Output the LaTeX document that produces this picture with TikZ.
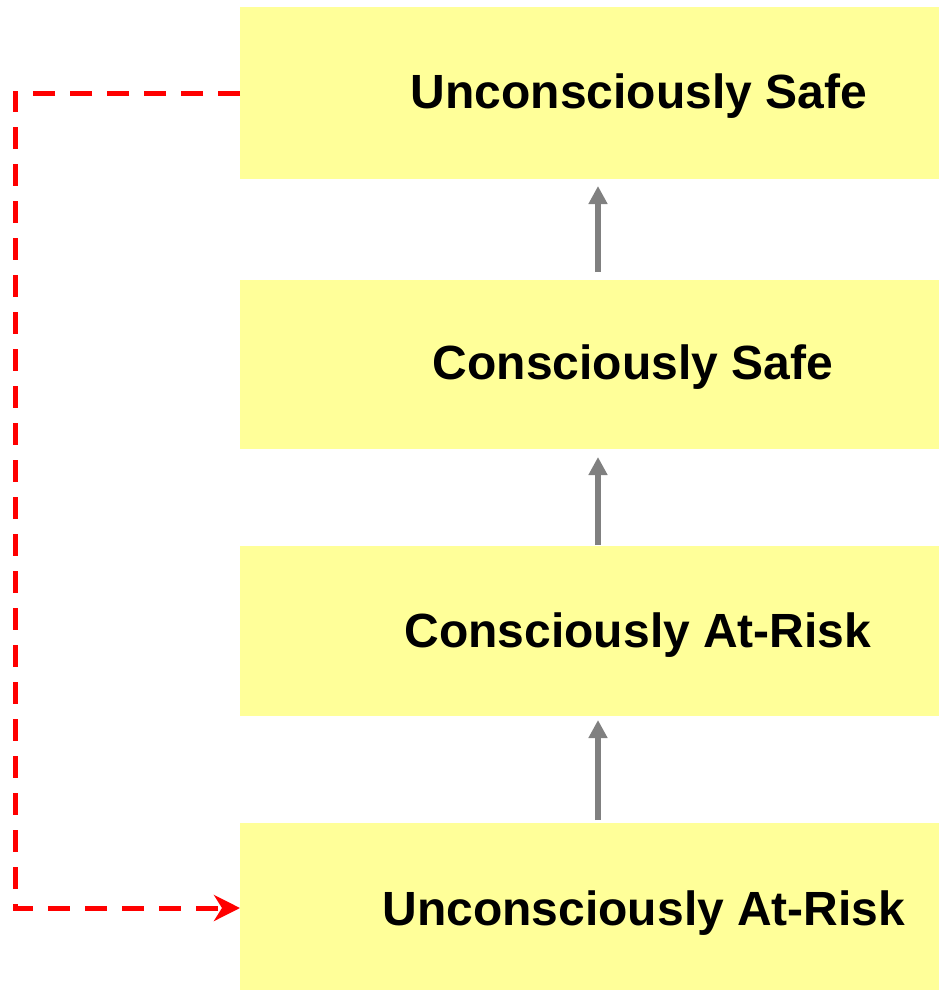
\documentclass[tikz,border=0pt]{standalone}
\usepackage{fontspec}
\setmainfont{Liberation Sans}
\usetikzlibrary{arrows.meta}
\definecolor{boxyellow}{HTML}{FFFF99}
\definecolor{arrgray}{HTML}{808080}
\tikzset{
  stagebox/.style={draw=none, fill=boxyellow, rectangle, minimum width=699pt, inner sep=0pt, outer sep=0pt},
  stagetext/.style={anchor=base, font=\fontsize{48}{56}\selectfont\bfseries, inner sep=0pt},
  uparrow/.style={draw=arrgray, line width=6pt, -{Triangle[length=18pt,width=18pt]}},
  loopline/.style={draw=red, line width=5pt, dash pattern=on 22pt off 15pt, -{Stealth[length=26pt,width=26pt,inset=8pt]}}
}
\begin{document}
\begin{tikzpicture}[x=1pt,y=-1pt]
\useasboundingbox (0,0) rectangle (939,990);
\node[stagebox, minimum height=172pt] (b1) at (589.5,93) {};
\node[stagebox, minimum height=169pt] (b2) at (589.5,364.5) {};
\node[stagebox, minimum height=170pt] (b3) at (589.5,631) {};
\node[stagebox, minimum height=167pt] (b4) at (589.5,906.5) {};
\node[stagetext] (t1) at (639,108) {Unconsciously Safe};
\node[stagetext] (t2) at (633,379) {Consciously Safe};
\node[stagetext] (t3) at (638,647) {Consciously At-Risk};
\node[stagetext] (t4) at (644,925) {Unconsciously At-Risk};
\coordinate (a1s) at (598,272);
\coordinate (a1e) at (598,186);
\coordinate (a2s) at (598,545);
\coordinate (a2e) at (598,457);
\coordinate (a3s) at (598,820);
\coordinate (a3e) at (598,720);
\draw[uparrow] (a1s) -- (a1e);
\draw[uparrow] (a2s) -- (a2e);
\draw[uparrow] (a3s) -- (a3e);
\coordinate (lc1) at (15,93);
\coordinate (lc2) at (15,908);
\draw[loopline] (b1.west) -- (lc1) -- (lc2) -- (b4.west |- lc2);
\end{tikzpicture}
\end{document}
